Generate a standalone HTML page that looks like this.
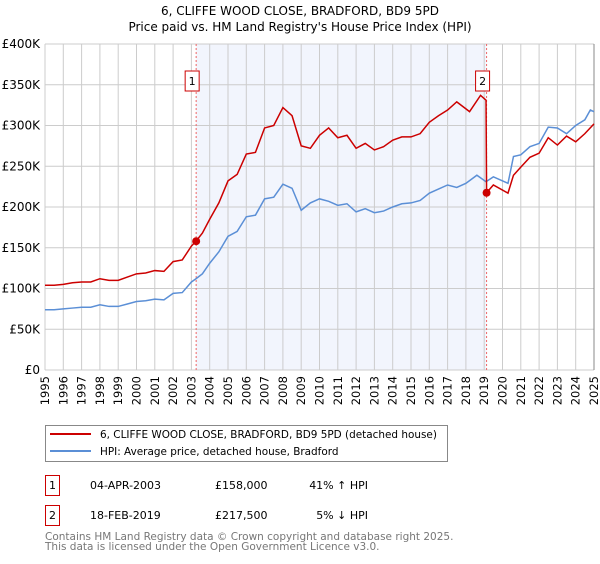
<!DOCTYPE html>
<html><head><meta charset="utf-8"><style>
body{margin:0;background:#fff;font-family:"DejaVu Sans","Liberation Sans",sans-serif;}
svg text{font-family:"DejaVu Sans","Liberation Sans",sans-serif;}
</style></head><body>
<svg id="chart" width="600" height="560" xmlns="http://www.w3.org/2000/svg">
<text x="300" y="15" text-anchor="middle" font-size="12">6, CLIFFE WOOD CLOSE, BRADFORD, BD9 5PD</text>
<text x="300" y="31" text-anchor="middle" font-size="12">Price paid vs. HM Land Registry's House Price Index (HPI)</text>
<g id="plot"></g>
<g>
<rect x="45.5" y="425.5" width="402" height="36" fill="#fff" stroke="#888"/>
<line x1="50" y1="434" x2="91" y2="434" stroke="#cc0000" stroke-width="2"/>
<text x="100" y="438" font-size="10.45">6, CLIFFE WOOD CLOSE, BRADFORD, BD9 5PD (detached house)</text>
<line x1="50" y1="451" x2="91" y2="451" stroke="#5b8fd6" stroke-width="2"/>
<text x="100" y="455" font-size="10.45">HPI: Average price, detached house, Bradford</text>
</g>
<g font-size="11">
<rect x="45.5" y="475.5" width="14" height="20" fill="#fff" stroke="#cc0000"/>
<text x="52.5" y="489" text-anchor="middle">1</text>
<text x="90" y="489">04-APR-2003</text>
<text x="215" y="489">£158,000</text>
<text x="368" y="489" text-anchor="end">41% ↑ HPI</text>
</g>
<g font-size="11">
<rect x="45.5" y="505.5" width="14" height="20" fill="#fff" stroke="#cc0000"/>
<text x="52.5" y="519" text-anchor="middle">2</text>
<text x="90" y="519">18-FEB-2019</text>
<text x="215" y="519">£217,500</text>
<text x="368" y="519" text-anchor="end">5% ↓ HPI</text>
</g>
<text x="45" y="540" font-size="10.5" fill="#777">Contains HM Land Registry data © Crown copyright and database right 2025.</text>
<text x="45" y="550" font-size="10.5" fill="#777">This data is licensed under the Open Government Licence v3.0.</text>
</svg>
<script>
const yTicks=[0,50,100,150,200,250,300,350,400];
const yTickLabels=["£0","£50K","£100K","£150K","£200K","£250K","£300K","£350K","£400K"];
const years=[1995,1996,1997,1998,1999,2000,2001,2002,2003,2004,2005,2006,2007,2008,2009,2010,2011,2012,2013,2014,2015,2016,2017,2018,2019,2020,2021,2022,2023,2024,2025];
const hpiDates=[1995,1995.5,1996,1996.5,1997,1997.5,1998,1998.5,1999,1999.5,2000,2000.5,2001,2001.5,2002,2002.5,2003,2003.25,2003.6,2004,2004.5,2005,2005.5,2006,2006.5,2007,2007.5,2008,2008.5,2009,2009.5,2010,2010.5,2011,2011.5,2012,2012.5,2013,2013.5,2014,2014.5,2015,2015.5,2016,2016.5,2017,2017.5,2018,2018.6,2019.1,2019.5,2020.3,2020.6,2021,2021.5,2022,2022.5,2023,2023.5,2024,2024.5,2024.8,2025];
const hpiValues=[74,74,75,76,77,77,80,78,78,81,84,85,87,86,94,95,108,112,118,131,145,164,170,188,190,210,212,228,223,196,205,210,207,202,204,194,198,193,195,200,204,205,208,217,222,227,224,229,239,231,237,229,262,264,274,278,298,297,290,300,307,319,317];
const redDates=[1995,1995.5,1996,1996.5,1997,1997.5,1998,1998.5,1999,1999.5,2000,2000.5,2001,2001.5,2002,2002.5,2003,2003.25,2003.6,2004,2004.5,2005,2005.5,2006,2006.5,2007,2007.5,2008,2008.5,2009,2009.5,2010,2010.5,2011,2011.5,2012,2012.5,2013,2013.5,2014,2014.5,2015,2015.5,2016,2016.5,2017,2017.5,2018.2,2018.8,2019.1,2019.13,2019.5,2020.3,2020.6,2021,2021.5,2022,2022.5,2023,2023.5,2024,2024.5,2025];
const redValues=[104,104,105,107,108,108,112,110,110,114,118,119,122,121,133,135,152,158,168,185,205,232,240,265,267,297,300,322,312,275,272,288,297,285,288,272,278,270,274,282,286,286,290,304,312,319,329,317,337,331,217.5,227,217,239,249,261,266,285,276,287,280,290,302];
const sales=[{d:2003.26,v:158,l:"1"},{d:2019.13,v:217.5,l:"2"}];
const X0=45,X1=594,Y0=370,Y1=44;
const xs=d=>X0+(d-1995)/(2025-1995)*(X1-X0);
const ys=v=>Y0-v/400*(Y0-Y1);
const NS="http://www.w3.org/2000/svg";
const g=document.getElementById('plot');
function mk(t,a){const e=document.createElementNS(NS,t);for(const k in a)e.setAttribute(k,a[k]);g.appendChild(e);return e;}
const shade=mk('rect',{x:xs(2003.26),y:Y1,width:xs(2019.13)-xs(2003.26),height:Y0-Y1,fill:'#f2f5fd'});


years.forEach(y=>{
const l=mk('line',{x1:xs(y),x2:xs(y),y1:Y1,y2:Y0,stroke:'#ccc','stroke-width':1});


const t=mk('text',{x:0,y:0,'font-size':11.5,'text-anchor':'end',transform:`translate(${xs(y)+4},${Y0+6}) rotate(-90)`});
t.textContent=y;


});
yTicks.forEach((v,i)=>{
const l=mk('line',{x1:X0,x2:X1,y1:ys(v),y2:ys(v),stroke:'#ccc','stroke-width':1});


const t=mk('text',{x:X0-5,y:ys(v)+4,'font-size':12,'text-anchor':'end'});
t.textContent=yTickLabels[i];


});
const border=mk('line',{x1:X1,x2:X1,y1:Y1,y2:Y0,stroke:'#888','stroke-width':1});


sales.forEach(s=>{
const l=mk('line',{x1:xs(s.d),x2:xs(s.d),y1:Y1,y2:Y0,stroke:'#e66','stroke-width':1,'stroke-dasharray':'2,2'});


});
const hp=mk('polyline',{points:hpiDates.map((d,i)=>xs(d)+','+ys(hpiValues[i])).join(' '),fill:'none',stroke:'#5b8fd6','stroke-width':1.5});


const rp=mk('polyline',{points:redDates.map((d,i)=>xs(d)+','+ys(redValues[i])).join(' '),fill:'none',stroke:'#cc0000','stroke-width':1.5});


sales.forEach(s=>{
const c=mk('circle',{cx:xs(s.d),cy:ys(s.v),r:4,fill:'#cc0000'});


const b=mk('rect',{x:xs(s.d)-11,y:71,width:14,height:20,fill:'#fff',stroke:'#cc0000'});


const t=mk('text',{x:xs(s.d)-4,y:85,'font-size':11,'text-anchor':'middle'});
t.textContent=s.l;


});
</script>
</body></html>
